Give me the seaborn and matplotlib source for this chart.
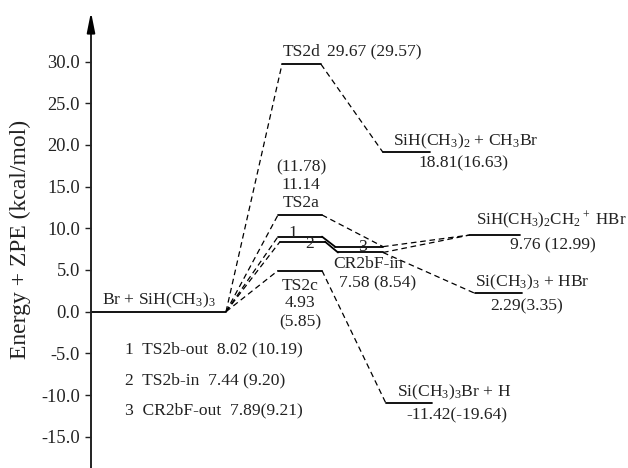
import matplotlib
matplotlib.use("Agg")
import matplotlib.pyplot as plt
import seaborn as sns
import pandas as pd
import numpy as np

sns.set_theme(style="white")
plt.rcParams['font.family'] = ['Liberation Serif', 'DejaVu Serif']
plt.rcParams['mathtext.default'] = 'regular'

# ---- data (energies in kcal/mol, as drawn) ----
level_names = ['R', 'TS2d', 'P1', 'TS2a', 'TS2b-out', 'TS2b-in',
               'CR2bF-out', 'CR2bF-in', 'TS2c', 'P2', 'P3', 'P4']
level_energy = [0.0, 29.67, 19.1, 11.6, 9.0, 8.4, 7.8, 7.1, 4.93, 9.2, 2.2, -11.0]

# layout: horizontal extent of each level (pixel-like x units)
level_x0 = [91, 282, 383, 278, 278, 280, 335, 338, 278, 470, 475, 386]
level_x1 = [226, 321, 430, 322, 322, 325, 383, 383, 322, 520, 522, 432]

# solid connectors (level end -> level start)
solid_links = [('TS2b-out', 'CR2bF-out'), ('TS2b-in', 'CR2bF-in')]
# dashed connectors (from right end of first to left end of second)
dashed_links = [('R', 'TS2d'), ('R', 'TS2a'), ('R', 'TS2b-out'), ('R', 'TS2b-in'),
                ('R', 'TS2c'), ('TS2d', 'P1'), ('TS2a', 'CR2bF-out*'),
                ('CR2bF-out', 'P2'), ('CR2bF-in', 'P2'), ('CR2bF-in', 'P3'),
                ('TS2c', 'P4')]

yticks = [30.0, 25.0, 20.0, 15.0, 10.0, 5.0, 0.0, -5.0, -10.0, -15.0]
ytick_labels = ['30.0', '25.0', '20.0', '15.0', '10.0', '5.0', '0.0', '-5.0', '-10.0', '-15.0']

E = dict(zip(level_names, level_energy))
X0 = dict(zip(level_names, level_x0))
X1 = dict(zip(level_names, level_x1))

# ---- build tables ----
rows = []
for n in level_names:
    rows.append(dict(x=X0[n], y=E[n], seg=n))
    rows.append(dict(x=X1[n], y=E[n], seg=n))
for a, b in solid_links:
    rows.append(dict(x=X1[a], y=E[a], seg=a + '>' + b))
    rows.append(dict(x=X0[b], y=E[b], seg=a + '>' + b))
levels_df = pd.DataFrame(rows)

drows = []
for a, b in dashed_links:
    if b.endswith('*'):
        bb = b[:-1]
        xb, yb = X1[bb], E[bb]
    else:
        xb, yb = X0[b], E[b]
    drows.append(dict(x=X1[a], y=E[a], seg=a + '>' + b))
    drows.append(dict(x=xb, y=yb, seg=a + '>' + b))
dash_df = pd.DataFrame(drows)

# ---- figure ----
W, H = 628, 468
fig = plt.figure(figsize=(W / 100, H / 100), dpi=100)
y0pix, ppu = 311.7, 8.34
ax = fig.add_axes([91 / W, 0, 1 - 91 / W, 1])
ax.set_xlim(91, W)
ax.set_ylim((y0pix - H) / ppu, y0pix / ppu)

sns.lineplot(data=dash_df, x='x', y='y', units='seg', estimator=None, sort=False,
             color='black', lw=0.9, ax=ax, linestyle=(0, (4.5, 3)))
sns.lineplot(data=levels_df, x='x', y='y', units='seg', estimator=None, sort=False,
             color='black', lw=1.3, ax=ax)

ax.set_xlabel('')
ax.set_ylabel('')
for s in ['top', 'right', 'bottom']:
    ax.spines[s].set_visible(False)
ax.spines['left'].set_color('#222222')
ax.spines['left'].set_linewidth(1.4)
ax.spines['left'].set_bounds(ax.get_ylim()[0], 35.0)
ax.annotate('', xy=(91, (y0pix - 12) / ppu), xytext=(91, 34.0),
            arrowprops=dict(arrowstyle='-|>,head_length=1.0,head_width=0.2',
                            color='black', lw=1.4, shrinkA=0, shrinkB=0),
            annotation_clip=False)
ax.set_xticks([])
ax.set_yticks(yticks)
ax.set_yticklabels(ytick_labels)
ax.tick_params(axis='y', direction='out', length=4.5, width=1.0, pad=3.5,
               labelsize=13.3, colors='#222222', left=True)
ax.grid(False)

fig.text(20 / W, 1 - 239 / H, 'Energy + ZPE (kcal/mol)', rotation=90,
         ha='center', va='center', fontsize=17, color='#222222')

def py(p):
    return (y0pix - p) / ppu

fs = 12.6
tc = '#222222'
texts = [
    (102, 300, 'Br + SiH(CH$_3$)$_3$', 'left', fs),
    (302, 52, 'TS2d', 'center', fs),
    (327, 52, '29.67 (29.57)', 'left', fs),
    (393, 141, 'SiH(CH$_3$)$_2$ + CH$_3$Br', 'left', fs),
    (463, 163, '18.81(16.63)', 'center', fs),
    (301, 167, '(11.78)', 'center', fs),
    (301, 185, '11.14', 'center', fs),
    (301, 203, 'TS2a', 'center', fs),
    (300, 286, 'TS2c', 'center', fs),
    (300, 303, '4.93', 'center', fs),
    (300, 322, '(5.85)', 'center', fs),
    (368, 264, 'CR2bF-in', 'center', fs),
    (378, 283, '7.58 (8.54)', 'center', fs),
    (476, 220, 'SiH(CH$_3$)$_2$CH$_2{}^+$ HBr', 'left', 12.2),
    (553, 245, '9.76 (12.99)', 'center', fs),
    (475, 282, 'Si(CH$_3$)$_3$ + HBr', 'left', fs),
    (527, 306, '2.29(3.35)', 'center', fs),
    (397, 392, 'Si(CH$_3$)$_3$Br + H', 'left', fs),
    (457, 415, '-11.42(-19.64)', 'center', fs),
    (125, 349, '1  TS2b-out  8.02 (10.19)', 'left', fs),
    (125, 380, '2  TS2b-in  7.44 (9.20)', 'left', fs),
    (125, 410, '3  CR2bF-out  7.89(9.21)', 'left', fs),
    (293, 233, '1', 'center', fs),
    (310, 244, '2', 'center', fs),
    (362, 247, '3', 'center', fs),
]
for x, p, s, ha, f in texts:
    ax.text(x, py(p), s, ha=ha, va='center', fontsize=f, color=tc)

fig.savefig('out.png', dpi=100)
